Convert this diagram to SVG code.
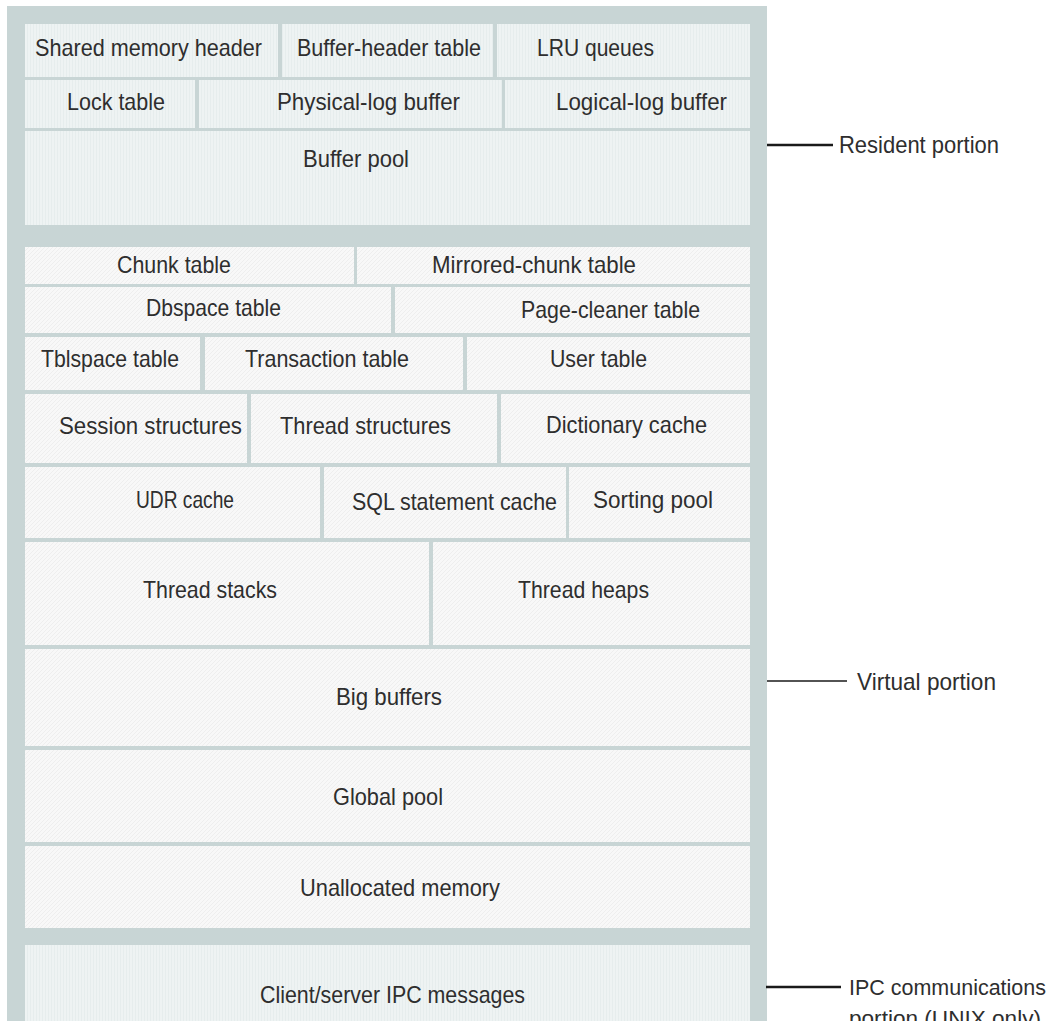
<svg xmlns="http://www.w3.org/2000/svg" width="1055" height="1021" viewBox="0 0 1055 1021">
  <defs>
    <!-- fine vertical texture of resident and IPC cells -->
    <pattern id="vlines" width="3" height="3" patternUnits="userSpaceOnUse">
      <rect width="3" height="3" fill="#eef3f3"/>
      <rect x="0" width="1" height="3" fill="#e6eded"/>
    </pattern>
    <!-- fine diagonal texture of virtual cells -->
    <pattern id="hatch" width="4" height="4" patternUnits="userSpaceOnUse">
      <rect width="4" height="4" fill="#f8f8f8"/>
      <path d="M0 4 L4 0" stroke="#eeeeee" stroke-width="1"/>
    </pattern>
    <style>
      .frame { fill: #c8d5d5; }
      .res { fill: url(#vlines); }
      .virt { fill: url(#hatch); }
      .lbl { font-family: "Liberation Sans", Arial, sans-serif; font-size: 24px; fill: #2e2e2e; text-anchor: middle; }
      .side { font-family: "Liberation Sans", Arial, sans-serif; font-size: 24px; fill: #2e2e2e; text-anchor: start; }
      .lead { stroke: #1a1a1a; fill: none; }
    </style>
  </defs>

  <rect width="1055" height="1021" fill="#ffffff"/>

  <!-- outer memory frame -->
  <rect class="frame" x="7" y="6" width="760" height="1030"/>

  <!-- resident portion -->
  <g id="shared-memory-header"><rect class="res" x="25" y="24" width="253" height="53"/><text class="lbl" x="148.5" y="56" textLength="227" lengthAdjust="spacingAndGlyphs">Shared memory header</text></g>
  <g id="buffer-header-table"><rect class="res" x="282" y="24" width="211" height="53"/><text class="lbl" x="389" y="56" textLength="184" lengthAdjust="spacingAndGlyphs">Buffer-header table</text></g>
  <g id="lru-queues"><rect class="res" x="497" y="24" width="253" height="53"/><text class="lbl" x="595.5" y="56" textLength="117" lengthAdjust="spacingAndGlyphs">LRU queues</text></g>

  <g id="lock-table"><rect class="res" x="25" y="80" width="170" height="48"/><text class="lbl" x="116" y="110" textLength="98" lengthAdjust="spacingAndGlyphs">Lock table</text></g>
  <g id="physical-log-buffer"><rect class="res" x="199" y="80" width="303" height="48"/><text class="lbl" x="368.5" y="110" textLength="183" lengthAdjust="spacingAndGlyphs">Physical-log buffer</text></g>
  <g id="logical-log-buffer"><rect class="res" x="505" y="80" width="245" height="48"/><text class="lbl" x="641.5" y="110" textLength="171" lengthAdjust="spacingAndGlyphs">Logical-log buffer</text></g>

  <g id="buffer-pool"><rect class="res" x="25" y="131" width="725" height="94"/><text class="lbl" x="356" y="167" textLength="106" lengthAdjust="spacingAndGlyphs">Buffer pool</text></g>

  <!-- virtual portion -->
  <g id="chunk-table"><rect class="virt" x="25" y="247" width="329" height="37"/><text class="lbl" x="174" y="273" textLength="114" lengthAdjust="spacingAndGlyphs">Chunk table</text></g>
  <g id="mirrored-chunk-table"><rect class="virt" x="357" y="247" width="393" height="37"/><text class="lbl" x="534" y="273" textLength="204" lengthAdjust="spacingAndGlyphs">Mirrored-chunk table</text></g>

  <g id="dbspace-table"><rect class="virt" x="25" y="287" width="366" height="46"/><text class="lbl" x="213.5" y="316" textLength="135" lengthAdjust="spacingAndGlyphs">Dbspace table</text></g>
  <g id="page-cleaner-table"><rect class="virt" x="395" y="287" width="355" height="46"/><text class="lbl" x="610.5" y="318" textLength="179" lengthAdjust="spacingAndGlyphs">Page-cleaner table</text></g>

  <g id="tblspace-table"><rect class="virt" x="25" y="337" width="175" height="53"/><text class="lbl" x="110" y="367" textLength="138" lengthAdjust="spacingAndGlyphs">Tblspace table</text></g>
  <g id="transaction-table"><rect class="virt" x="205" y="337" width="258" height="53"/><text class="lbl" x="327" y="367" textLength="164" lengthAdjust="spacingAndGlyphs">Transaction table</text></g>
  <g id="user-table"><rect class="virt" x="467" y="337" width="283" height="53"/><text class="lbl" x="598.5" y="367" textLength="97" lengthAdjust="spacingAndGlyphs">User table</text></g>

  <g id="session-structures"><rect class="virt" x="25" y="394" width="222" height="69"/><text class="lbl" x="150.5" y="434" textLength="183" lengthAdjust="spacingAndGlyphs">Session structures</text></g>
  <g id="thread-structures"><rect class="virt" x="251" y="394" width="246" height="69"/><text class="lbl" x="365.5" y="434" textLength="171" lengthAdjust="spacingAndGlyphs">Thread structures</text></g>
  <g id="dictionary-cache"><rect class="virt" x="501" y="394" width="249" height="69"/><text class="lbl" x="626.5" y="433" textLength="161" lengthAdjust="spacingAndGlyphs">Dictionary cache</text></g>

  <g id="udr-cache"><rect class="virt" x="25" y="467" width="295" height="71"/><text class="lbl" x="185" y="508" textLength="98" lengthAdjust="spacingAndGlyphs">UDR cache</text></g>
  <g id="sql-statement-cache"><rect class="virt" x="324" y="467" width="242" height="71"/><text class="lbl" x="454.5" y="510" textLength="205" lengthAdjust="spacingAndGlyphs">SQL statement cache</text></g>
  <g id="sorting-pool"><rect class="virt" x="569" y="467" width="181" height="71"/><text class="lbl" x="653" y="508" textLength="120" lengthAdjust="spacingAndGlyphs">Sorting pool</text></g>

  <g id="thread-stacks"><rect class="virt" x="25" y="542" width="404" height="103"/><text class="lbl" x="210" y="598" textLength="134" lengthAdjust="spacingAndGlyphs">Thread stacks</text></g>
  <g id="thread-heaps"><rect class="virt" x="433" y="542" width="317" height="103"/><text class="lbl" x="583.5" y="598" textLength="131" lengthAdjust="spacingAndGlyphs">Thread heaps</text></g>

  <g id="big-buffers"><rect class="virt" x="25" y="649" width="725" height="97"/><text class="lbl" x="389" y="705" textLength="106" lengthAdjust="spacingAndGlyphs">Big buffers</text></g>
  <g id="global-pool"><rect class="virt" x="25" y="750" width="725" height="92"/><text class="lbl" x="388" y="805" textLength="110" lengthAdjust="spacingAndGlyphs">Global pool</text></g>
  <g id="unallocated-memory"><rect class="virt" x="25" y="846" width="725" height="82"/><text class="lbl" x="400" y="896" textLength="200" lengthAdjust="spacingAndGlyphs">Unallocated memory</text></g>

  <!-- IPC communications portion -->
  <g id="client-server-ipc"><rect class="res" x="25" y="945" width="725" height="90"/><text class="lbl" x="392.5" y="1003" textLength="265" lengthAdjust="spacingAndGlyphs">Client/server IPC messages</text></g>

  <!-- leader lines to the portion labels -->
  <g id="connectors">
    <line class="lead" x1="767" y1="145" x2="833" y2="145" stroke-width="2.5"/>
    <line class="lead" x1="767" y1="681" x2="847" y2="681" stroke-width="1.6"/>
    <line class="lead" x1="766" y1="987" x2="841" y2="987" stroke-width="2.5"/>
  </g>

  <g id="resident-portion"><text class="side" x="839" y="153" textLength="160" lengthAdjust="spacingAndGlyphs">Resident portion</text></g>
  <g id="virtual-portion"><text class="side" x="857" y="690" textLength="139" lengthAdjust="spacingAndGlyphs">Virtual portion</text></g>
  <g id="ipc-portion">
    <text class="side" x="849" y="995" style="font-size:22px" textLength="197" lengthAdjust="spacingAndGlyphs">IPC communications</text>
    <text class="side" x="849" y="1026" style="font-size:22px" textLength="192" lengthAdjust="spacingAndGlyphs">portion (UNIX only)</text>
  </g>
</svg>
